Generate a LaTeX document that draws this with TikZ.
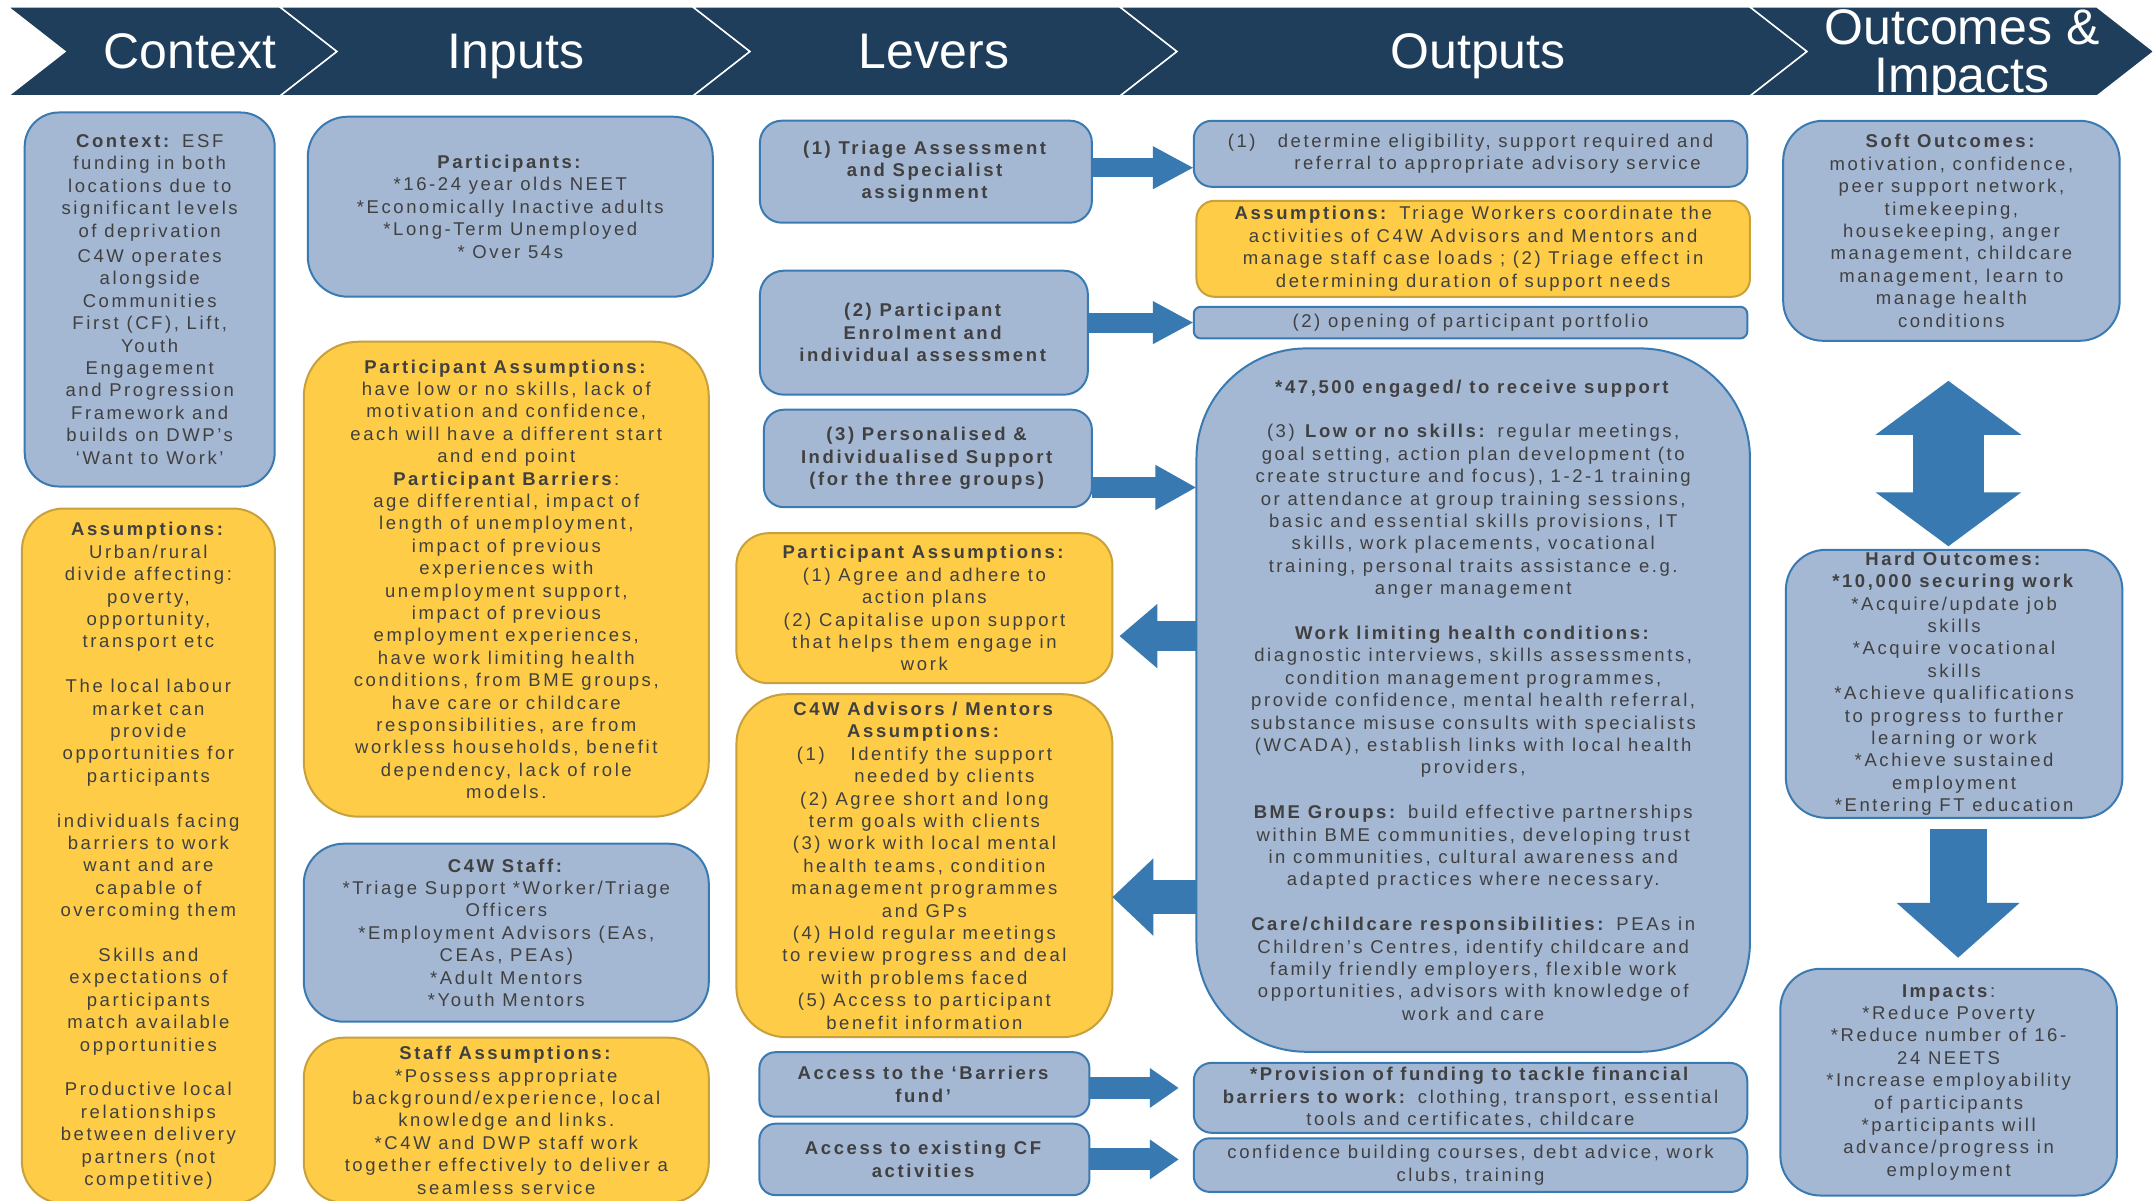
\documentclass[tikz,border=0pt]{standalone}
\usepackage{fontspec}
\setmainfont{Liberation Sans}
\newfontfamily\cellfont[LetterSpace=14]{Liberation Sans}
\usepackage{tikz}
\usetikzlibrary{positioning,arrows.meta}
\definecolor{hdrnavy}{RGB}{31,62,92}
\definecolor{fillblue}{RGB}{164,183,211}
\definecolor{edgeblue}{RGB}{58,122,178}
\definecolor{fillgold}{RGB}{254,204,70}
\definecolor{edgegold}{RGB}{200,160,60}
\definecolor{txtgray}{RGB}{64,64,64}
\definecolor{arrowblue}{RGB}{56,121,177}
\newcommand{\celltext}{\cellfont\fontsize{18.5}{22.4}\selectfont}
\tikzset{
  bluebox/.style={draw=edgeblue, fill=fillblue, line width=2pt, text=txtgray, align=center,
    inner sep=0pt, outer sep=0pt, font=\celltext},
  goldbox/.style={draw=edgegold, fill=fillgold, line width=2pt, text=txtgray, align=center,
    inner sep=0pt, outer sep=0pt, font=\celltext},
  hdrlabel/.style={text=white, align=center, font=\fontsize{50}{48}\selectfont},
  hdrsingle/.style={hdrlabel, text height=36pt, text depth=0pt},
  blockarrow/.style={draw=arrowblue, line width=#1}
}

\begin{document}
\begin{tikzpicture}[x=1pt, y=-1pt]
        \useasboundingbox (0,0) rectangle (2154,1201);
        % Header ----------------------------------------------------------------------------------
        \foreach \xa/\xb in {8/280, 280/693, 693/1120, 1120/1750, 1750/2097}
            \filldraw[fill=hdrnavy, draw=white, line width=1.5pt] (\xa,7) -- (\xb,7) -- (\xb+57,51.5) -- (\xb,96) -- (\xa,96) -- (\xa+57,51.5) -- cycle;
        \node[hdrsingle] (hctx) at (190,51) {Context};
        \node[hdrsingle] (hinp) at (516,51) {Inputs};
        \node[hdrsingle] (hlev) at (934,51) {Levers};
        \node[hdrsingle] (hout) at (1478,51) {Outputs};
        \node[hdrlabel] (himp) at (1962,56) {Outcomes \&\\Impacts};
        % Context ---------------------------------------------------------------------------------
        \node[bluebox, minimum width=250pt, minimum height=374pt, rounded corners=34pt] (ctx) at (149.7,299.5)
            {\textbf{Context:} ESF\\funding in both\\locations due to\\significant levels\\of deprivation\\[3pt]C4W operates\\alongside\\Communities\\First (CF), Lift,\\Youth\\Engagement\\and Progression\\Framework and\\builds on DWP’s\\‘Want to Work’};
        \node[goldbox, minimum width=253pt, minimum height=695pt, rounded corners=42pt, below=22pt of ctx, xshift=-1.3pt] (ctxasm)
            {\textbf{Assumptions:}\\Urban/rural\\divide affecting:\\poverty,\\opportunity,\\transport etc\\[22.4pt]The local labour\\market can\\provide\\opportunities for\\participants\\[22.4pt]individuals facing\\barriers to work\\want and are\\capable of\\overcoming them\\[22.4pt]Skills and\\expectations of\\participants\\match available\\opportunities\\[22.4pt]Productive local\\relationships\\between delivery\\partners (not\\competitive)};
        % Inputs ----------------------------------------------------------------------------------
        \node[bluebox, minimum width=405pt, minimum height=180pt, rounded corners=40pt] (part) at (510.3,206.7)
            {\textbf{Participants:}\\{*}16-24 year olds NEET\\{*}Economically Inactive adults\\{*}Long-Term Unemployed\\{*} Over 54s};
        \node[goldbox, minimum width=405pt, minimum height=475pt, rounded corners=55pt, below=45pt of part, xshift=-4pt] (partasm)
            {\textbf{Participant Assumptions:}\\have low or no skills, lack of\\motivation and confidence,\\each will have a different start\\and end point\\\textbf{Participant Barriers}:\\age differential, impact of\\length of unemployment,\\impact of previous\\experiences with\\unemployment support,\\impact of previous\\employment experiences,\\have work limiting health\\conditions, from BME groups,\\have care or childcare\\responsibilities, are from\\workless households, benefit\\dependency, lack of role\\models.};
        \node[bluebox, minimum width=405pt, minimum height=178pt, rounded corners=40pt, below=27pt of partasm] (staff)
            {\textbf{C4W Staff:}\\{*}Triage Support *Worker/Triage\\Officers\\{*}Employment Advisors (EAs,\\CEAs, PEAs)\\{*}Adult Mentors\\{*}Youth Mentors};
        \node[goldbox, minimum width=405pt, minimum height=165pt, rounded corners=40pt, below=16pt of staff] (staffasm)
            {\textbf{Staff Assumptions:}\\{*}Possess appropriate\\background/experience, local\\knowledge and links.\\{*}C4W and DWP staff work\\together effectively to deliver a\\seamless service};
        % Levers ----------------------------------------------------------------------------------
        \node[bluebox, minimum width=332pt, minimum height=102pt, rounded corners=22pt] (lev1) at (925.9,171.7)
            {\textbf{(1) Triage Assessment}\\\textbf{and Specialist}\\\textbf{assignment}};
        \node[bluebox, minimum width=328pt, minimum height=124pt, rounded corners=24pt, below=48pt of lev1, xshift=-2pt] (lev2)
            {\textbf{(2) Participant}\\\textbf{Enrolment and}\\\textbf{individual assessment}};
        \node[bluebox, minimum width=328pt, minimum height=97.5pt, rounded corners=20pt, below=15pt of lev2, xshift=4pt] (lev3)
            {\textbf{(3) Personalised \&}\\\textbf{Individualised Support}\\\textbf{(for the three groups)}};
        \node[goldbox, minimum width=376pt, minimum height=150pt, rounded corners=32pt, below=26pt of lev3, xshift=-3.5pt] (levasm)
            {\textbf{Participant Assumptions:}\\(1) Agree and adhere to\\action plans\\(2) Capitalise upon support\\that helps them engage in\\work};
        \node[goldbox, minimum width=376pt, minimum height=343pt, rounded corners=50pt, below=11pt of levasm] (advasm)
            {\textbf{C4W Advisors / Mentors}\\\textbf{Assumptions:}\\(1)\hspace{1.4em}Identify the support\\\hspace*{40pt}needed by clients\\(2) Agree short and long\\term goals with clients\\(3) work with local mental\\health teams, condition\\management programmes\\and GPs\\(4) Hold regular meetings\\to review progress and deal\\with problems faced\\(5) Access to participant\\benefit information};
        \node[bluebox, minimum width=330pt, minimum height=64.5pt, rounded corners=16pt, below=15pt of advasm] (barr)
            {\textbf{Access to the ‘Barriers}\\\textbf{fund’}};
        \node[bluebox, minimum width=330pt, minimum height=71.4pt, rounded corners=16pt, below=7pt of barr] (cfact)
            {\textbf{Access to existing CF}\\\textbf{activities}};
        % Outputs ---------------------------------------------------------------------------------
        \node[bluebox, minimum width=553.5pt, minimum height=66pt, rounded corners=18pt] (out1) at (1470.5,153.8)
            {(1)\hspace{1.2em}determine eligibility, support required and\\\hspace*{54pt}referral to appropriate advisory service};
        \node[goldbox, minimum width=553.5pt, minimum height=96pt, rounded corners=18pt, below=14pt of out1, xshift=2.7pt] (outasm)
            {\textbf{Assumptions:} Triage Workers coordinate the\\activities of C4W Advisors and Mentors and\\manage staff case loads ; (2) Triage effect in\\determining duration of support needs};
        \node[bluebox, minimum width=553.5pt, minimum height=31.6pt, rounded corners=7pt, below=10pt of outasm, xshift=-2.7pt] (out2)
            {(2) opening of participant portfolio};
        \node[bluebox, minimum width=553.5pt, minimum height=703.4pt, rounded corners=110pt, below=10pt of out2, xshift=2.7pt] (out3)
            {\textbf{*47,500 engaged/ to receive support}\\[22.4pt]
             (3) \textbf{Low or no skills:} regular meetings,\\goal setting, action plan development (to\\create structure and focus), 1-2-1 training\\or attendance at group training sessions,\\basic and essential skills provisions, IT\\skills, work placements, vocational\\training, personal traits assistance e.g.\\anger management\\[22.4pt]
             \textbf{Work limiting health conditions:}\\diagnostic interviews, skills assessments,\\condition management programmes,\\provide confidence, mental health referral,\\substance misuse consults with specialists\\(WCADA), establish links with local health\\providers,\\[22.4pt]
             \textbf{BME Groups:} build effective partnerships\\within BME communities, developing trust\\in communities, cultural awareness and\\adapted practices where necessary.\\[22.4pt]
             \textbf{Care/childcare responsibilities:} PEAs in\\Children’s Centres, identify childcare and\\family friendly employers, flexible work\\opportunities, advisors with knowledge of\\work and care};
        \node[bluebox, minimum width=553.5pt, minimum height=70pt, rounded corners=18pt, below=11pt of out3, xshift=-2.7pt] (fund)
            {\textbf{*Provision of funding to tackle financial}\\\textbf{barriers to work:} clothing, transport, essential\\tools and certificates, childcare};
        \node[bluebox, minimum width=553.5pt, minimum height=53.6pt, rounded corners=16pt, below=5.5pt of fund] (cfout)
            {confidence building courses, debt advice, work\\clubs, training};
        % Outcomes & Impacts ----------------------------------------------------------------------
        \node[bluebox, minimum width=336.5pt, minimum height=220pt, rounded corners=40pt] (soft) at (1951.4,230.8)
            {\textbf{Soft Outcomes:}\\motivation, confidence,\\peer support network,\\timekeeping,\\housekeeping, anger\\management, childcare\\management, learn to\\manage health\\conditions};
        \node[bluebox, minimum width=336.5pt, minimum height=268pt, rounded corners=40pt, below=209pt of soft, xshift=2.7pt] (hard)
            {\textbf{Hard Outcomes:}\\\textbf{*10,000 securing work}\\{*}Acquire/update job\\skills\\{*}Acquire vocational\\skills\\{*}Achieve qualifications\\to progress to further\\learning or work\\{*}Achieve sustained\\employment\\{*}Entering FT education};
        \node[bluebox, minimum width=336.5pt, minimum height=226.7pt, rounded corners=40pt, below=151pt of hard, xshift=-5.5pt] (impact)
            {\textbf{Impacts}:\\{*}Reduce Poverty\\{*}Reduce number of 16-\\24 NEETS\\{*}Increase employability\\of participants\\{*}participants will\\advance/progress in\\employment};
        % Arrows ----------------------------------------------------------------------------------
        \draw[blockarrow=19pt, -{Triangle[length=41pt,width=40pt]}] ([yshift=4pt]lev1.east) -- ([yshift=4pt]lev1.east -| out1.west);
        \draw[blockarrow=20pt, -{Triangle[length=41pt,width=40pt]}] (lev2.east |- out2.west) -- (out2.west);
        \draw[blockarrow=21pt, -{Triangle[length=41pt,width=42pt]}] ([yshift=-29pt]lev3.east) -- ([yshift=-29pt]lev3.east -| out3.west);
        \draw[blockarrow=30pt, -{Triangle[length=38pt,width=62pt]}] ([yshift=64pt]out3.west) -- ([yshift=64pt,xshift=7pt]out3.west -| levasm.east);
        \draw[blockarrow=34pt, -{Triangle[length=41pt,width=75pt]}] ([yshift=-197pt]out3.west) -- ([yshift=-197pt]out3.west -| advasm.east);
        \draw[blockarrow=22pt, -{Triangle[length=29pt,width=38pt]}] ([yshift=-3.5pt]barr.east) -- ([yshift=-3.5pt,xshift=-15pt]barr.east -| fund.west);
        \draw[blockarrow=22pt, -{Triangle[length=29pt,width=38pt]}] (cfact.east) -- ([xshift=-15pt]cfact.east -| cfout.west);
        \draw[blockarrow=71pt, {Triangle[length=54pt,width=143pt]}-{Triangle[length=54pt,width=143pt]}] ([shift={(-3,40)}]soft.south) -- ([shift={(-3,-3.5)}]soft.south |- hard.north);
        \draw[blockarrow=57pt, -{Triangle[length=55pt,width=120pt]}] ([shift={(4,11)}]hard.south) -- ([shift={(4,-11)}]hard.south |- impact.north);
    \end{tikzpicture}
\end{document}
